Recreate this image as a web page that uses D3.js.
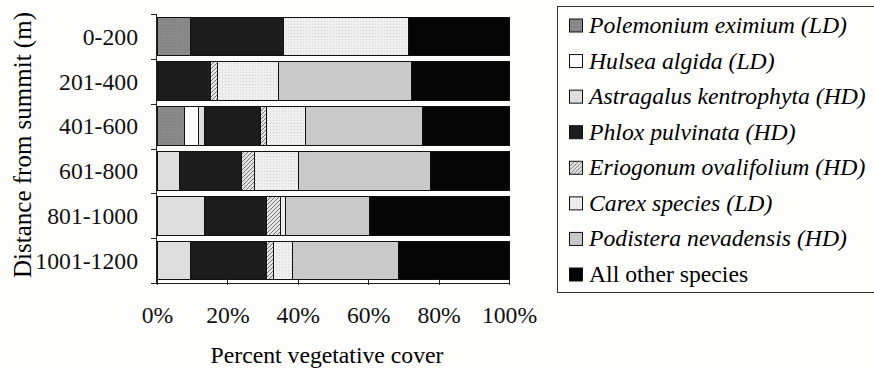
<!DOCTYPE html>
<meta charset="utf-8">
<title>Percent vegetative cover by distance from summit</title>
<head>
<style>
body {
  margin: 0;
  background-color: #fdfdfb;
}
svg {
  display: block;
  font-family: "Liberation Serif", "Times New Roman", serif;
}
.axis path, .axis line {
  stroke: #222;
  shape-rendering: crispEdges;
}
.axis text {
  font-family: "Liberation Serif", "Times New Roman", serif;
  font-size: 23.7px;
  fill: #111;
}
.seg {
  stroke: #111;
  stroke-width: 1px;
  shape-rendering: crispEdges;
}
</style>
</head>
<body>
<svg width="874" height="370"></svg>
<script src="https://d3js.org/d3.v7.min.js"></script>
<script>
// distance classes (m)
var categories = ["0-200", "201-400", "401-600", "601-800", "801-1000", "1001-1200"];

// percent cover per distance class
var polemonium = [9.4, 0, 7.8, 0, 0, 0];
var hulsea     = [0, 0, 3.9, 0, 0, 0];
var astragalus = [0, 0, 1.9, 6.3, 13.6, 9.4];
var phlox      = [26.5, 15.3, 15.7, 17.8, 17.6, 21.6];
var eriogonum  = [0, 1.9, 1.7, 3.5, 3.9, 2.2];
var carex      = [35.5, 17.3, 11.2, 12.5, 1.5, 5.4];
var podistera  = [0, 37.9, 33.3, 37.7, 23.9, 30.0];
var other      = [28.6, 27.6, 24.5, 22.2, 39.5, 31.4];

var speciesNames = [
  "Polemonium eximium (LD)",
  "Hulsea algida (LD)",
  "Astragalus kentrophyta (HD)",
  "Phlox pulvinata (HD)",
  "Eriogonum ovalifolium (HD)",
  "Carex species (LD)",
  "Podistera nevadensis (HD)",
  "All other species"
];
var xTicks = [0, 20, 40, 60, 80, 100];

var series = [polemonium, hulsea, astragalus, phlox, eriogonum, carex, podistera, other];
var fills = ["url(#grainy)", "#fbfbfb", "#dedede", "#1c1c1c", "url(#hatch)", "url(#dots)", "#c9c9c9", "#050505"];

// build table for d3.stack
var table = categories.map(function(c, i) {
  var row = {cat: c};
  speciesNames.forEach(function(s, j) { row[s] = series[j][i]; });
  return row;
});

var svg = d3.select("svg");

var defs = svg.append("defs");

var hatch = defs.append("pattern")
    .attr("id", "hatch")
    .attr("patternUnits", "userSpaceOnUse")
    .attr("width", 4).attr("height", 4);
hatch.append("rect").attr("width", 4).attr("height", 4).attr("fill", "#e4e4e4");
hatch.append("path").attr("d", "M-1,1 l2,-2 M0,4 l4,-4 M3,5 l2,-2")
    .attr("stroke", "#777").attr("stroke-width", 1);

var dots = defs.append("pattern")
    .attr("id", "dots")
    .attr("patternUnits", "userSpaceOnUse")
    .attr("width", 3).attr("height", 3);
dots.append("rect").attr("width", 3).attr("height", 3).attr("fill", "#efefef");
dots.append("rect").attr("width", 1).attr("height", 1).attr("fill", "#d4d4d4");

var grainy = defs.append("pattern")
    .attr("id", "grainy")
    .attr("patternUnits", "userSpaceOnUse")
    .attr("width", 3).attr("height", 3);
grainy.append("rect").attr("width", 3).attr("height", 3).attr("fill", "#8a8a8a");
grainy.append("rect").attr("x", 1).attr("y", 1).attr("width", 1).attr("height", 1).attr("fill", "#7a7a7a");

var x = d3.scaleLinear().domain([0, 100]).range([157, 509]);
var y = d3.scaleBand().domain(categories).range([14, 283])
    .paddingInner(0.14).paddingOuter(0.07);

var stack = d3.stack().keys(speciesNames);
var layers = stack(table);

var g = svg.append("g");

var layer = g.selectAll(".layer")
  .data(layers)
  .enter().append("g")
    .attr("class", "layer")
    .attr("fill", function(d, i) { return fills[i]; });

layer.selectAll("rect")
  .data(function(d) { return d.filter(function(p) { return p[1] - p[0] > 0; }); })
  .enter().append("rect")
    .attr("class", "seg")
    .attr("x", function(d) { return x(d[0]); })
    .attr("width", function(d) { return x(d[1]) - x(d[0]); })
    .attr("y", function(d) { return y(d.data.cat); })
    .attr("height", y.bandwidth());

// y axis: ticks sit on the band edges
var yAxisG = svg.append("g").attr("class", "axis");
yAxisG.append("line")
    .attr("x1", 156.5).attr("x2", 156.5)
    .attr("y1", 14).attr("y2", 283);
var edges = categories.map(function(c) { return y(c) - y.step() * y.paddingInner() / 2; });
edges.push(283);
yAxisG.selectAll(".tk")
  .data(edges)
  .enter().append("line")
    .attr("x1", 151).attr("x2", 156.5)
    .attr("y1", function(d) { return Math.round(d) + 0.5; })
    .attr("y2", function(d) { return Math.round(d) + 0.5; });
yAxisG.selectAll(".lab")
  .data(categories)
  .enter().append("text")
    .attr("x", 138)
    .attr("y", function(d) { return y(d) + y.bandwidth() / 2; })
    .attr("dy", "0.35em")
    .attr("text-anchor", "end")
    .text(function(d) { return d; });

// x axis
var xAxis = d3.axisBottom(x)
    .tickValues(xTicks)
    .tickSize(6)
    .tickPadding(17)
    .tickFormat(function(d) { return d + "%"; });
var xAxisG = svg.append("g")
    .attr("class", "axis")
    .attr("transform", "translate(0,283)")
    .call(xAxis)
    .attr("font-family", null)
    .attr("font-size", null);
xAxisG.select(".domain").attr("d", "M157,0.5H509");
xAxisG.selectAll(".tick line").attr("y1", -4).attr("y2", 2);

svg.append("text")
    .attr("x", 327)
    .attr("y", 363)
    .attr("text-anchor", "middle")
    .style("font-size", "23.7px")
    .text("Percent vegetative cover");

svg.append("text")
    .attr("transform", "translate(31,145) rotate(-90)")
    .attr("text-anchor", "middle")
    .style("font-size", "25px")
    .text("Distance from summit (m)");

// legend
var legend = svg.append("g");
legend.append("rect")
    .attr("x", 557.5).attr("y", 6.5)
    .attr("width", 330).attr("height", 286)
    .attr("fill", "#fdfdfb")
    .attr("stroke", "#333");

var rowY = d3.scalePoint().domain(speciesNames).range([25.5, 274.5]);

var item = legend.selectAll(".item")
  .data(speciesNames)
  .enter().append("g")
    .attr("class", "item")
    .attr("transform", function(d) { return "translate(0," + rowY(d) + ")"; });

item.append("rect")
    .attr("x", 569.5).attr("y", -6.5)
    .attr("width", 13).attr("height", 13)
    .attr("fill", function(d, i) { return fills[i]; })
    .attr("stroke", "#111");

item.append("text")
    .attr("x", 589)
    .attr("y", 7.5)
    .style("font-size", "23.7px")
    .style("font-style", function(d, i) { return i < 7 ? "italic" : "normal"; })
    .text(function(d) { return d; });
</script>
</body>
</html>
